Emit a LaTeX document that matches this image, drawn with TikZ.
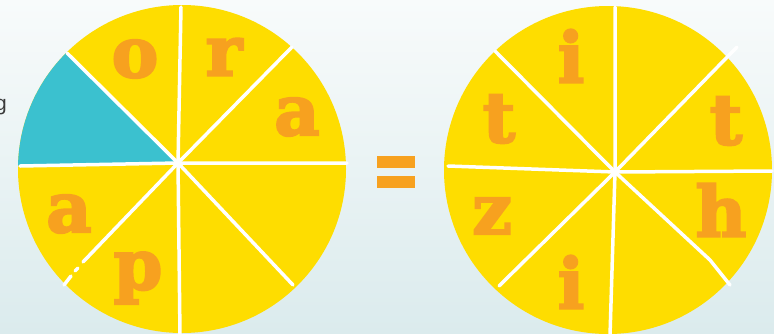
\documentclass[tikz,border=0pt]{standalone}
\usepackage{fontspec}
\usepackage{tikz}
\usetikzlibrary{positioning}
\newfontfamily\slabfont[FakeBold=3]{DejaVu Serif Bold}
\setsansfont{Liberation Sans}
\definecolor{pieyellow}{HTML}{FEDD00}
\definecolor{pieteal}{HTML}{3BC1CF}
\definecolor{letterorange}{HTML}{F7A11F}
\definecolor{bgtop}{HTML}{F8FBFB}
\definecolor{bgbottom}{HTML}{DBEBED}
\definecolor{textgray}{HTML}{3A3A3A}

\begin{document}
\begin{tikzpicture}[x=1pt, y=-1pt,
    spoke/.style={draw=white, line width=3.5pt, line cap=round, line join=round},
    letter/.style={text=letterorange, inner sep=0pt,
      font=\slabfont\fontsize{70}{70}\selectfont}
]
\useasboundingbox (0,0) rectangle (774,333);
\shade[top color=bgtop, bottom color=bgbottom] (0,0) rectangle (774,333);
\node[anchor=base east, inner sep=0pt, text=textgray,
  font=\sffamily\fontsize{21}{21}\selectfont] (g) at (7,110) {g};

  % Left pie
  \coordinate (lc) at (182,169);
  \coordinate (lhub) at (178,163);
  \fill[pieyellow] (lc) circle[radius=164];
  \begin{scope}
    \clip (lc) circle[radius=164];
    \fill[pieteal] (lhub) -- (40,26) -- (0,26) -- (0,166) -- cycle;
  \end{scope}
  \draw[spoke] (181,7) -- (lhub) -- (180,336);
  \draw[spoke] (20,166) -- (lhub) -- (347,163);
  \draw[spoke] (67,53) -- (lhub) -- (293,285);
  \draw[spoke] (292,47) -- (lhub) -- (83,262);
  \draw[spoke] (78,268) -- (75,271);
  \draw[spoke] (71,276) -- (64,285);
\node[letter] (o1) at (135,59) {o};
\node[letter] (r1) at (224,57) {r};
\node[letter] (a1) at (297,117) {a};
\node[letter] (a2) at (69,214) {a};
\node[letter] (p1) at (138,278) {p};

  % Equals sign
  \fill[letterorange] (377,156) rectangle (415,168);
  \fill[letterorange] (377,176) rectangle (415,188);

  % Right pie
  \coordinate (rc) at (608,170);
  \coordinate (rhub) at (615,172);
  \fill[pieyellow] (rc) circle[radius=164];
  \draw[spoke] (615,7) -- (rhub) -- (610,336);
  \draw[spoke] (448,166) -- (rhub) -- (772,171);
  \draw[spoke] (495,51) -- (rhub) -- (710,260) -- (730,285);
  \draw[spoke] (737,47) -- (rhub) -- (499,286);
\node[letter] (i1) at (571,56) {i};
\node[letter] (t1) at (499,119) {t};
\node[letter] (t2) at (726,121) {t};
\node[letter] (z1) at (492,216) {z};
\node[letter] (i2) at (571,282) {i};
\node[letter] (h1) at (721,210) {h};
\end{tikzpicture}
\end{document}
